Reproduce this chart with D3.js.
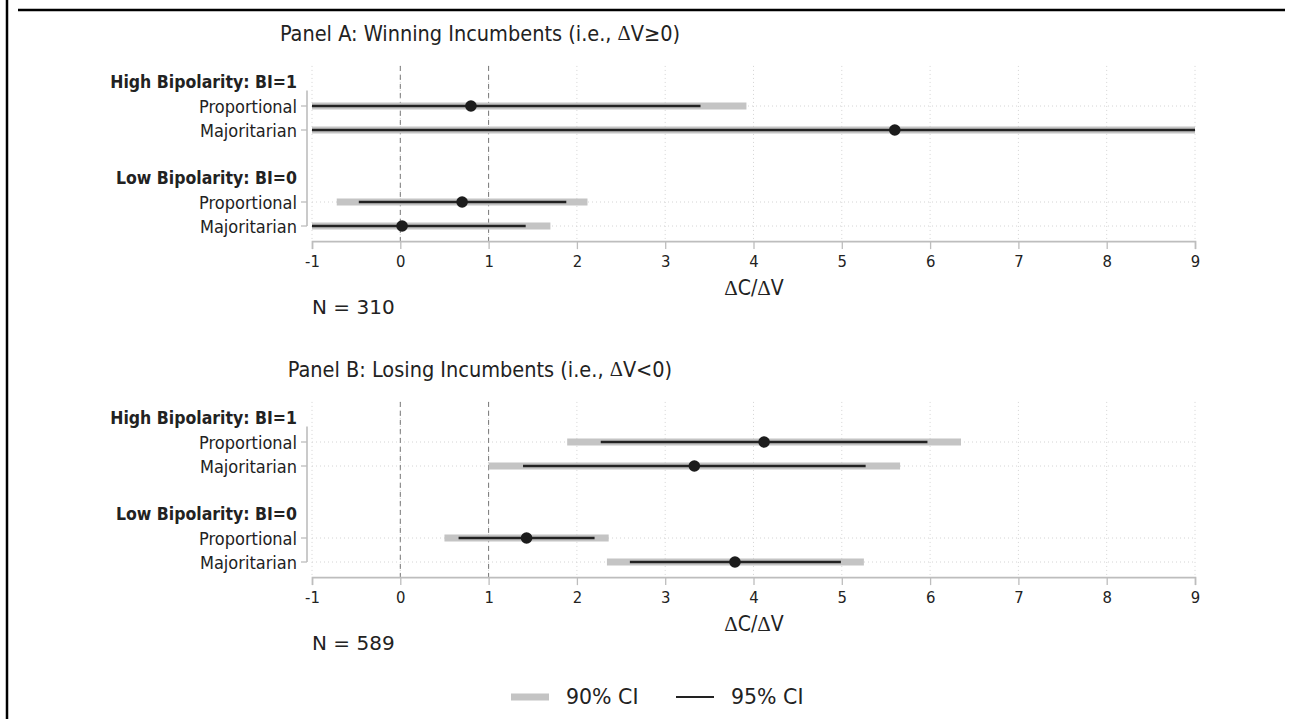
<!DOCTYPE html>
<html><head><meta charset="utf-8">
<script src="https://cdn.jsdelivr.net/npm/d3@7"></script>
<style>
body{margin:0;background:#fff;}
svg{display:block;}
text{font-family:"DejaVu Sans Condensed","DejaVu Sans",sans-serif;fill:#222;}
</style></head>
<body>
<svg id="c" width="1298" height="719"></svg>
<script>
// ---- data ----
const groups = ["High Bipolarity: BI=1", "Low Bipolarity: BI=0"];
const systems = ["Proportional", "Majoritarian"];
const xTicks = [-1, 0, 1, 2, 3, 4, 5, 6, 7, 8, 9];
const refLines = [0, 1];

const panelTitles = ["Panel A: Winning Incumbents (i.e., ", "Panel B: Losing Incumbents (i.e., "];
const panelTitleTails = ["V\u22650)", "V<0)"];
const panelN = ["N = 310", "N = 589"];

// order: High-Prop, High-Maj, Low-Prop, Low-Maj
const estA  = [0.80, 5.60, 0.70, 0.02];
const lo95A = [-1.00, -1.00, -0.47, -1.00];
const hi95A = [3.40, 9.00, 1.88, 1.42];
const lo90A = [-1.00, -1.00, -0.72, -1.00];
const hi90A = [3.92, 9.00, 2.12, 1.70];

const estB  = [4.12, 3.33, 1.43, 3.79];
const lo95B = [2.27, 1.39, 0.66, 2.60];
const hi95B = [5.97, 5.27, 2.20, 4.99];
const lo90B = [1.89, 1.00, 0.50, 2.34];
const hi90B = [6.35, 5.66, 2.36, 5.25];

const legendLabels = ["90% CI", "95% CI"];

// ---- drawing ----
const svg = d3.select("#c");
const W = 1298, H = 719;

// frame
svg.append("line").attr("x1",7).attr("x2",7).attr("y1",0).attr("y2",H)
  .attr("stroke","#000").attr("stroke-width",2.5);
svg.append("line").attr("x1",18).attr("x2",1285).attr("y1",10).attr("y2",10)
  .attr("stroke","#000").attr("stroke-width",2.5);

const x = d3.scaleLinear().domain([-1, 9]).range([312, 1195]);

const panels = [
  {est:estA, lo95:lo95A, hi95:hi95A, lo90:lo90A, hi90:hi90A, top:82},
  {est:estB, lo95:lo95B, hi95:hi95B, lo90:lo90B, hi90:hi90B, top:418}
];

// row positions: 1 header High, 2 Prop, 3 Maj, 5 header Low, 6 Prop, 7 Maj
const rowPos = [2, 3, 6, 7];
const headerPos = [1, 5];

panels.forEach((p, pi) => {
  const y = d3.scaleLinear().domain([1, 7]).range([p.top, p.top + 144]);
  const g = svg.append("g");
  const yTop = y(0.33), yAxis = y(7.63);

  // title
  const t = g.append("text").attr("x", 480).attr("y", y(-1.05)).attr("text-anchor","middle")
    .attr("dominant-baseline","central").style("font-size","21.5px");
  t.append("tspan").text(panelTitles[pi]);
  t.append("tspan").text("\u0394").style("font-family","'Liberation Serif',serif").style("font-size","20.5px");
  t.append("tspan").text(panelTitleTails[pi]);

  // vertical dotted grid
  g.selectAll(".vg").data(xTicks).enter().append("line")
    .attr("x1", d => x(d)).attr("x2", d => x(d)).attr("y1", yTop).attr("y2", yAxis)
    .attr("stroke","#d4d4d4").attr("stroke-width",1).attr("stroke-dasharray","1,3");
  // horizontal dotted grid
  g.selectAll(".hg").data(rowPos).enter().append("line")
    .attr("x1", x(-1)).attr("x2", x(9)).attr("y1", d => y(d)).attr("y2", d => y(d))
    .attr("stroke","#d4d4d4").attr("stroke-width",1).attr("stroke-dasharray","1,3");
  // reference dashed lines
  g.selectAll(".rl").data(refLines).enter().append("line")
    .attr("x1", d => x(d)).attr("x2", d => x(d)).attr("y1", yTop).attr("y2", yAxis)
    .attr("stroke","#777").attr("stroke-width",1).attr("stroke-dasharray","5,4");

  // x axis
  const ax = g.append("g").attr("transform", `translate(0,${yAxis})`)
    .call(d3.axisBottom(x).tickValues(xTicks).tickSize(8).tickPadding(6).tickFormat(d => String(d)));
  ax.select(".domain").attr("stroke","#bdbdbd").attr("stroke-width",1.6);
  ax.selectAll(".tick line").attr("stroke","#bdbdbd").attr("stroke-width",1.3);
  ax.selectAll(".tick text").style("font-size","16.5px").style("font-family","'DejaVu Sans Condensed','DejaVu Sans',sans-serif").attr("fill","#222");

  // x axis title
  g.append("text").attr("x", 754).attr("y", yAxis + 47).attr("text-anchor","middle")
    .attr("dominant-baseline","central")
    .style("font-family","'DejaVu Sans Condensed','DejaVu Sans',sans-serif").style("font-size","21px")
    .html('<tspan style="font-family:Liberation Serif">\u0394</tspan>C/<tspan style="font-family:Liberation Serif">\u0394</tspan>V');

  // N
  g.append("text").attr("x", x(-1)).attr("y", yAxis + 66).attr("dominant-baseline","central")
    .style("font-family","'DejaVu Sans',sans-serif").style("font-size","20px").text(panelN[pi]);

  // y axis line & ticks
  g.append("line").attr("x1",307).attr("x2",307).attr("y1", y(1.35)).attr("y2", y(7))
    .attr("stroke","#bdbdbd").attr("stroke-width",1.6);
  g.selectAll(".yt").data(rowPos).enter().append("line")
    .attr("x1",301).attr("x2",307).attr("y1", d => y(d)).attr("y2", d => y(d))
    .attr("stroke","#bdbdbd").attr("stroke-width",1.3);

  // labels
  g.selectAll(".gh").data(groups).enter().append("text")
    .attr("x", 297).attr("y", (d,i) => y(headerPos[i])).attr("text-anchor","end")
    .attr("dominant-baseline","central").style("font-size","17.5px").style("font-weight","bold")
    .text(d => d);
  g.selectAll(".rlab").data(rowPos).enter().append("text")
    .attr("x", 297).attr("y", d => y(d)).attr("text-anchor","end")
    .attr("dominant-baseline","central").style("font-size","18px")
    .text((d,i) => systems[i % 2]);

  // 90% CI (gray thick)
  g.selectAll(".c90").data(rowPos).enter().append("line")
    .attr("x1", (d,i) => x(p.lo90[i])).attr("x2", (d,i) => x(p.hi90[i]))
    .attr("y1", d => y(d)).attr("y2", d => y(d))
    .attr("stroke","#c4c4c4").attr("stroke-width",7);
  // 95% CI (black)
  g.selectAll(".c95").data(rowPos).enter().append("line")
    .attr("x1", (d,i) => x(p.lo95[i])).attr("x2", (d,i) => x(p.hi95[i]))
    .attr("y1", d => y(d)).attr("y2", d => y(d))
    .attr("stroke","#222").attr("stroke-width",2.4);
  // points
  g.selectAll(".pt").data(rowPos).enter().append("circle")
    .attr("cx", (d,i) => x(p.est[i])).attr("cy", d => y(d)).attr("r", 5.8)
    .attr("fill","#1c1c1c");
});

// legend
const ly = 697;
const lg = svg.append("g");
lg.append("line").attr("x1",511).attr("x2",549).attr("y1",ly).attr("y2",ly)
  .attr("stroke","#c4c4c4").attr("stroke-width",7);
lg.append("text").attr("x",566).attr("y",ly).attr("dominant-baseline","central")
  .style("font-family","'DejaVu Sans',sans-serif").style("font-size","20.5px").text(legendLabels[0]);
lg.append("line").attr("x1",676).attr("x2",714).attr("y1",ly).attr("y2",ly)
  .attr("stroke","#222").attr("stroke-width",2.2);
lg.append("text").attr("x",731).attr("y",ly).attr("dominant-baseline","central")
  .style("font-family","'DejaVu Sans',sans-serif").style("font-size","20.5px").text(legendLabels[1]);
</script>
</body></html>
